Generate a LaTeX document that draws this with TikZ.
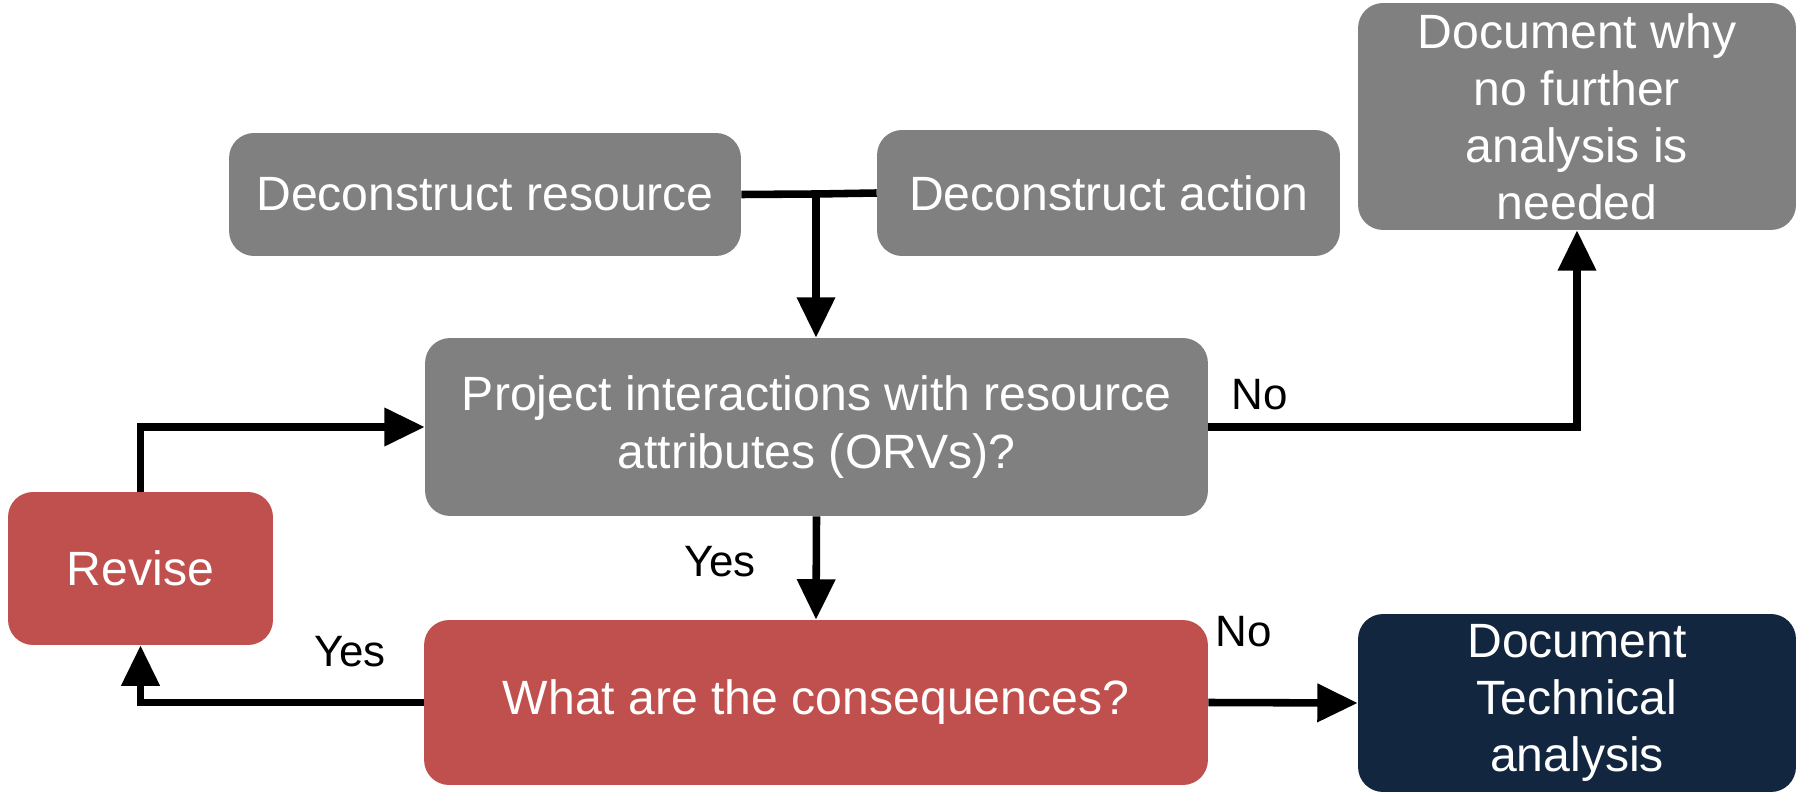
\documentclass[tikz,border=0pt]{standalone}
\usepackage{fontspec}
\setmainfont{Liberation Sans}
\usetikzlibrary{arrows.meta}
\definecolor{boxgray}{HTML}{808080}
\definecolor{boxred}{HTML}{C0504D}
\definecolor{boxnavy}{HTML}{13263F}
\begin{document}
\begin{tikzpicture}[x=0.02cm,y=-0.02cm,
  flowbox/.style={rounded corners=0.5cm, inner sep=0pt, align=center,
    text=white, font=\fontsize{27.4}{32.5}\selectfont},
  graybox/.style={flowbox, fill=boxgray},
  redbox/.style={flowbox, fill=boxred},
  navybox/.style={flowbox, fill=boxnavy},
  link/.style={line width=4.3pt, black},
  arrowlink/.style={link, -{Triangle[length=23pt,width=21pt]}},
  answer/.style={inner sep=0pt, font=\fontsize{25}{29}\selectfont}]
\useasboundingbox (0,0) rectangle (1797,793);

% process boxes
\node[graybox, minimum width=10.24cm, minimum height=2.46cm] (dres) at (485,194.5) {Deconstruct resource};
\node[graybox, minimum width=9.26cm, minimum height=2.52cm] (dact) at (1108.5,193) {Deconstruct action};
\node[graybox, minimum width=8.76cm, minimum height=4.54cm] (why) at (1577,116.5) {Document why\\no further\\analysis is\\needed};
\node[graybox, minimum width=15.66cm, minimum height=3.56cm] (proj) at (816.5,427) {Project interactions with resource\\attributes (ORVs)?};
\node[redbox, minimum width=5.3cm, minimum height=3.06cm] (rev) at (140.5,568.5) {Revise};
\node[redbox, minimum width=15.68cm, minimum height=3.3cm] (cons) at (816,702.5) {What are the consequences?};
\node[navybox, minimum width=8.76cm, minimum height=3.56cm] (tech) at (1577,703) {Document\\Technical\\analysis};

% joining the two deconstruction steps
\coordinate (join) at (816,194);
\draw[link] (dres.east) -- (join) -- (dact.west);
\draw[arrowlink] (join) -- (join |- proj.north);

% decision flow
\draw[arrowlink] (rev.north) |- (proj.west);
\draw[arrowlink] (proj.east) -| (why.south);
\draw[arrowlink] (proj.south) -- (cons.north);
\draw[arrowlink] (cons.west) -| (rev.south);
\draw[arrowlink] (cons.east) -- (tech.west);

% answers
\node[answer] (noA) at (1260,395) {No};
\node[answer] (yesA) at (720,562) {Yes};
\node[answer] (yesB) at (350,652) {Yes};
\node[answer] (noB) at (1244,632) {No};
\end{tikzpicture}
\end{document}
